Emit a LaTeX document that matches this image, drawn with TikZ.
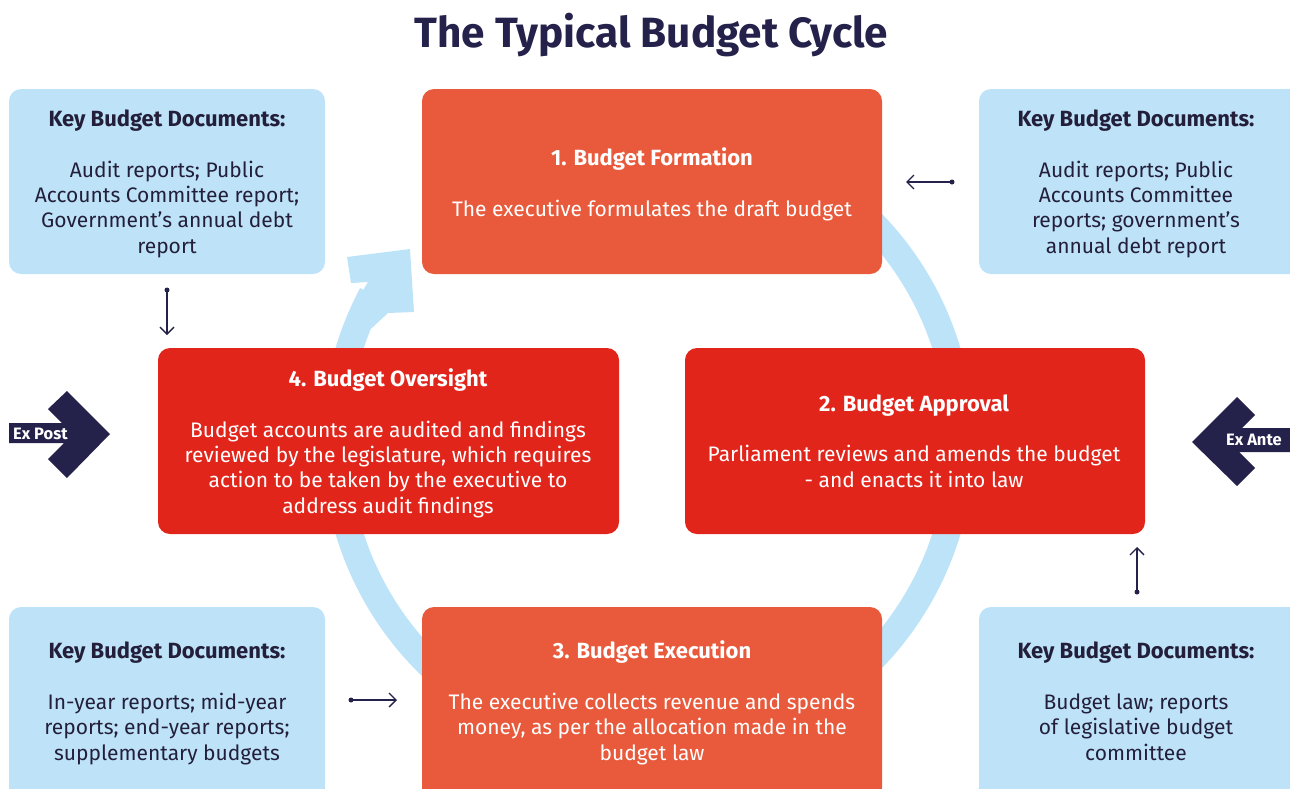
\documentclass[tikz,border=0pt]{standalone}
\usepackage{fontspec}
\setmainfont{Fira Sans}
\usetikzlibrary{arrows.meta}
\definecolor{lblue}{HTML}{BEE3F8}
\definecolor{ring}{HTML}{BDE3F8}
\definecolor{ora}{HTML}{E85A3B}
\definecolor{redb}{HTML}{E1251B}
\definecolor{navy}{HTML}{24214A}
\definecolor{txt}{HTML}{231F3A}
\begin{document}
\begin{tikzpicture}[x=1pt,y=-1pt,
  box/.style={rounded corners=12pt, inner sep=0pt, outer sep=0pt},
  hd/.style={font=\fontsize{22}{25.3}\selectfont\bfseries, anchor=base, inner sep=0pt},
  bd/.style={font=\fontsize{21}{25.3}\selectfont, anchor=base, align=center, inner sep=0pt},
  conn/.style={draw=navy, line width=1.3pt, -{Straight Barb[length=7pt,width=14pt,line width=1.3pt]}},
  dotc/.style={circle, fill=navy, inner sep=0pt, minimum size=5pt},
  tag/.style={font=\fontsize{16.5}{18}\selectfont\bfseries, text=white, inner sep=0pt}]
\useasboundingbox (0,0) rectangle (1290,788);
\clip (0,0) rectangle (1290,788);
% ring
\draw[ring, line width=27pt] (648,441) ++(-60:312.5) arc[start angle=-60, end angle=208, radius=312.5];
\fill[ring] (351,283) -- (347,257) -- (410,249) -- (414,312) -- (388,313) -- (370.8,329) -- (345.8,318.8) -- (368,282) -- cycle;
% boxes
\node[box, fill=lblue, minimum width=316pt, minimum height=185pt] (tl) at (167,181.5) {};
\node[box, fill=ora, minimum width=460pt, minimum height=185pt] (b1) at (652,181.5) {};
\node[box, fill=lblue, minimum width=323pt, minimum height=185pt] (tr) at (1140.5,181.5) {};
\node[box, fill=redb, minimum width=461pt, minimum height=186pt] (b4) at (388.5,441) {};
\node[box, fill=redb, minimum width=460pt, minimum height=186pt] (b2) at (915,441) {};
\node[box, fill=lblue, minimum width=316pt, minimum height=193pt] (bl) at (167,703.5) {};
\node[box, fill=ora, minimum width=460pt, minimum height=193pt] (b3) at (652,703.5) {};
\node[box, fill=lblue, minimum width=323pt, minimum height=193pt] (br) at (1140.5,703.5) {};
% title
\node[font=\fontsize{42.3}{48}\selectfont\bfseries, text=navy, anchor=base, inner sep=0pt] (title) at (651.5,47) {The Typical Budget Cycle};
% texts (multi-line blocks are anchored at the baseline of their last line)
\node[hd, text=txt] (tlh) at (167,126) {Key Budget Documents:};
\node[bd, text=txt] (tlb) at (167,253) {Audit reports; Public\\Accounts Committee report;\\Government’s annual debt\\report};
\node[hd, text=white] (b1h) at (652,165) {1. Budget Formation};
\node[bd, text=white] (b1b) at (652,216) {The executive formulates the draft budget};
\node[hd, text=txt] (trh) at (1136,126) {Key Budget Documents:};
\node[bd, text=txt] (trb) at (1136,253) {Audit reports; Public\\Accounts Committee\\reports; government’s\\annual debt report};
\node[hd, text=white] (b4h) at (388,386) {4. Budget Oversight};
\node[bd, text=white] (b4b) at (388,513) {Budget accounts are audited and findings\\reviewed by the legislature, which requires\\action to be taken by the executive to\\address audit findings};
\node[hd, text=white] (b2h) at (914,411) {2. Budget Approval};
\node[bd, text=white] (b2b) at (914,487) {Parliament reviews and amends the budget\\- and enacts it into law};
\node[hd, text=txt] (blh) at (167,658) {Key Budget Documents:};
\node[bd, text=txt] (blb) at (167,760) {In-year reports; mid-year\\reports; end-year reports;\\supplementary budgets};
\node[hd, text=white] (b3h) at (652,658) {3. Budget Execution};
\node[bd, text=white] (b3b) at (652,760) {The executive collects revenue and spends\\money, as per the allocation made in the\\budget law};
\node[hd, text=txt] (brh) at (1136,658) {Key Budget Documents:};
\node[bd, text=txt] (brb) at (1136,760) {Budget law; reports\\of legislative budget\\committee};
% Ex Post / Ex Ante
\fill[navy] (9,423) -- (62,423) -- (48,409) -- (67,391) -- (110,434) -- (67,478) -- (48,459) -- (64,443) -- (9,443) -- cycle;
\node[tag, anchor=west] (expost) at (13,434) {Ex Post};
\fill[navy] (1290,428) -- (1242,428) -- (1255,415) -- (1237,397) -- (1192,442) -- (1237,486) -- (1255,468) -- (1239,452) -- (1290,452) -- cycle;
\node[tag, anchor=west] (exante) at (1226,440) {Ex Ante};
% small connectors
\node[dotc] (d1) at (952,182) {};
\coordinate (t1) at (906,182);
\draw[conn] (d1.center) -- (t1);
\node[dotc] (d2) at (167,290) {};
\coordinate (t2) at (167,335);
\draw[conn] (d2.center) -- (t2);
\node[dotc] (d3) at (351,700) {};
\coordinate (t3) at (397,700);
\draw[conn] (d3.center) -- (t3);
\node[dotc] (d4) at (1137,592) {};
\coordinate (t4) at (1137,547);
\draw[conn] (d4.center) -- (t4);
\end{tikzpicture}
\end{document}
